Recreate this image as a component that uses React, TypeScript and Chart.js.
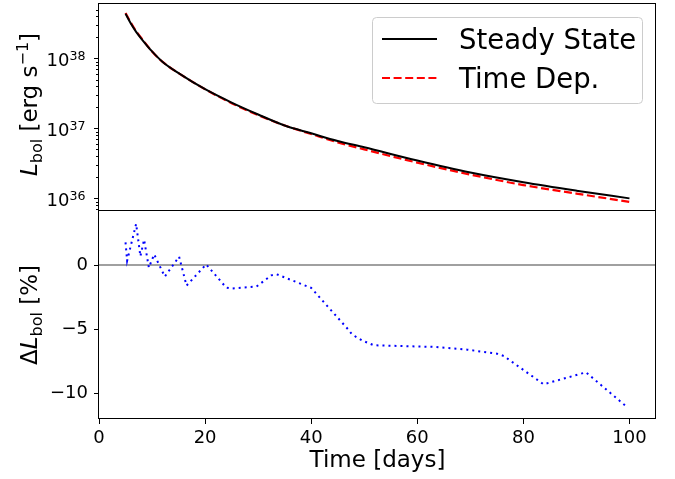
import React, { useEffect, useRef } from "react";
import { Chart, registerables } from "chart.js";

Chart.register(...registerables);

const FONT = "'DejaVu Sans', sans-serif";

// ---- data ----
const times = [5, 6, 7, 8, 10, 12, 15, 20, 25, 30, 35, 40, 45, 50, 60, 70, 80, 90, 100];
const steadyState = [
  4.37e38, 3.16e38, 2.4e38, 1.91e38, 1.26e38, 8.91e37, 6.17e37, 3.63e37, 2.34e37, 1.58e37,
  1.1e37, 8.51e36, 6.61e36, 5.37e36, 3.47e36, 2.34e36, 1.7e36, 1.29e36, 1.0e36,
];
const timeDep = [
  4.47e38, 3.24e38, 2.45e38, 1.95e38, 1.26e38, 8.91e37, 6.17e37, 3.63e37, 2.29e37, 1.55e37,
  1.1e37, 8.32e36, 6.31e36, 5.01e36, 3.24e36, 2.19e36, 1.55e36, 1.17e36, 8.91e35,
];

const deltaTimes = [
  5.0, 5.3, 7.0, 7.8, 8.5, 9.4, 10.4, 12.4, 15.1, 16.5, 20.2, 24.0, 25.0, 29.7, 32.5, 33.5, 40.0,
  47.0, 47.7, 49.7, 51.8, 63.5, 69.4, 75.0, 76.3, 83.8, 91.8, 99.7,
];
const deltaPercent = [
  1.76, 0.33, 3.2, 0.68, 1.97, -0.2, 0.83, -0.9, 0.65, -1.6, 0.05, -1.76, -1.83, -1.67, -0.8, -0.72,
  -1.78, -5.02, -5.4, -5.88, -6.24, -6.37, -6.58, -6.89, -7.07, -9.27, -8.34, -11.1,
];

const xTickValues = [0, 20, 40, 60, 80, 100];
const logMajorTicks = [1e36, 1e37, 1e38];
const deltaTickValues = [-10, -5, 0];
const legendLabels = ["Steady State", "Time Dep."];
const xTitle = "Time [days]";

const X_MIN = 0;
const X_MAX = 105;
const LOG_MIN = 6.6e35;
const LOG_MAX = 6.0e38;
const D_MIN = -11.97;
const D_MAX = 4.2;

// page geometry
const PAD_V = 17;
const TOP_CANVAS_Y = 4 - PAD_V; // chart area top at page y = 4
const TOP_CANVAS_H = 211 + PAD_V - TOP_CANVAS_Y; // chart area bottom at page y = 211
const BOT_CANVAS_Y = 211 - PAD_V; // chart area top at page y = 211
const BOT_CANVAS_H = 479 - BOT_CANVAS_Y;
const X_AXIS_H = 60; // chart area bottom at page y = 419

type Seg = { text: string; font: string; dy: number };

function drawVerticalRich(ctx: CanvasRenderingContext2D, segs: Seg[], baselineX: number, centerY: number) {
  ctx.save();
  let total = 0;
  const widths = segs.map((s) => {
    ctx.font = s.font;
    const w = ctx.measureText(s.text).width;
    total += w;
    return w;
  });
  ctx.translate(baselineX, centerY);
  ctx.rotate(-Math.PI / 2);
  ctx.textBaseline = "alphabetic";
  ctx.textAlign = "left";
  ctx.fillStyle = "#000";
  let u = -total / 2;
  segs.forEach((s, i) => {
    ctx.font = s.font;
    ctx.fillText(s.text, u, s.dy);
    u += widths[i];
  });
  ctx.restore();
}

function drawFrame(ctx: CanvasRenderingContext2D, a: { left: number; right: number; top: number; bottom: number }) {
  ctx.save();
  ctx.strokeStyle = "#000";
  ctx.lineWidth = 1;
  const l = Math.round(a.left) - 0.5;
  const t = Math.round(a.top) - 0.5;
  const r = Math.round(a.right) - 0.5;
  const b = Math.round(a.bottom) - 0.5;
  ctx.strokeRect(l, t, r - l, b - t);
  ctx.restore();
}

const topDecor = {
  id: "topDecor",
  afterDraw(chart: any) {
    const { ctx, chartArea, scales } = chart;
    const y = scales.y;
    ctx.save();
    // minor log ticks
    ctx.strokeStyle = "#000";
    ctx.lineWidth = 1;
    for (let e = 35; e <= 38; e++) {
      for (let m = 2; m <= 9; m++) {
        const v = m * Math.pow(10, e);
        if (v <= LOG_MIN || v >= LOG_MAX) continue;
        const py = Math.round(y.getPixelForValue(v)) + 0.5;
        ctx.beginPath();
        ctx.moveTo(chartArea.left - 3, py);
        ctx.lineTo(chartArea.left, py);
        ctx.stroke();
      }
    }
    // major tick labels 10^n with raised exponent
    ctx.fillStyle = "#000";
    ctx.textBaseline = "alphabetic";
    logMajorTicks.forEach((v) => {
      const py = y.getPixelForValue(v);
      const expText = String(Math.round(Math.log10(v)));
      const right = chartArea.left - 13.5;
      ctx.font = `12.6px ${FONT}`;
      ctx.textAlign = "right";
      const ew = ctx.measureText(expText).width;
      ctx.fillText(expText, right, py + 1.5);
      ctx.font = `18px ${FONT}`;
      ctx.fillText("10", right - ew, py + 7.5);
    });
    ctx.restore();
    drawFrame(ctx, chartArea);

    // legend
    const oy = -TOP_CANVAS_Y;
    ctx.save();
    ctx.beginPath();
    (ctx as any).roundRect(372.5, 17.5 + oy, 270, 86, 4);
    ctx.fillStyle = "rgba(255,255,255,0.8)";
    ctx.fill();
    ctx.strokeStyle = "#cccccc";
    ctx.lineWidth = 1;
    ctx.stroke();

    const ds = chart.data.datasets;
    const rows = [39 + oy, 78 + oy];
    const baselines = [49.3 + oy, 87.5 + oy];
    rows.forEach((ry, i) => {
      ctx.beginPath();
      ctx.strokeStyle = ds[i].borderColor;
      ctx.lineWidth = 2;
      ctx.setLineDash(ds[i].borderDash || []);
      ctx.moveTo(382, ry);
      ctx.lineTo(437, ry);
      ctx.stroke();
      ctx.setLineDash([]);
      ctx.fillStyle = "#000";
      ctx.font = `27.5px ${FONT}`;
      ctx.textBaseline = "alphabetic";
      ctx.textAlign = "left";
      ctx.fillText(legendLabels[i], 459, baselines[i]);
    });
    ctx.restore();

    // y title
    drawVerticalRich(
      ctx,
      [
        { text: "L", font: `italic 23px ${FONT}`, dy: 0 },
        { text: "bol", font: `16px ${FONT}`, dy: 5 },
        { text: " [erg s", font: `23px ${FONT}`, dy: 0 },
        { text: "−1", font: `16px ${FONT}`, dy: -9 },
        { text: "]", font: `23px ${FONT}`, dy: 0 },
      ],
      37,
      (chartArea.top + chartArea.bottom) / 2 - 3
    );
  },
};

const botDecor = {
  id: "botDecor",
  beforeDatasetsDraw(chart: any) {
    const { ctx, chartArea, scales } = chart;
    const py = scales.y.getPixelForValue(0);
    ctx.save();
    ctx.strokeStyle = "#808080";
    ctx.lineWidth = 1.5;
    ctx.beginPath();
    ctx.moveTo(chartArea.left, py);
    ctx.lineTo(chartArea.right, py);
    ctx.stroke();
    ctx.restore();
  },
  afterDraw(chart: any) {
    const { ctx, chartArea } = chart;
    drawFrame(ctx, chartArea);
    drawVerticalRich(
      ctx,
      [
        { text: "Δ", font: `23px ${FONT}`, dy: 0 },
        { text: "L", font: `italic 23px ${FONT}`, dy: 0 },
        { text: "bol", font: `16px ${FONT}`, dy: 5 },
        { text: " [%]", font: `23px ${FONT}`, dy: 0 },
      ],
      37,
      (chartArea.top + chartArea.bottom) / 2
    );
  },
};

export default function App() {
  const topRef = useRef<HTMLCanvasElement>(null);
  const botRef = useRef<HTMLCanvasElement>(null);

  useEffect(() => {
    document.body.style.margin = "0";
    Chart.defaults.font.family = FONT;
    Chart.defaults.color = "#000";

    const top = new Chart(topRef.current as HTMLCanvasElement, {
      type: "line",
      data: {
        datasets: [
          {
            label: legendLabels[0],
            data: times.map((t, i) => ({ x: t, y: steadyState[i] })),
            borderColor: "#000000",
            borderWidth: 2,
            pointRadius: 0,
            cubicInterpolationMode: "monotone",
            fill: false,
          },
          {
            label: legendLabels[1],
            data: times.map((t, i) => ({ x: t, y: timeDep[i] })),
            borderColor: "#ff0000",
            borderWidth: 2.2,
            borderDash: [8, 3.6],
            pointRadius: 0,
            cubicInterpolationMode: "monotone",
            fill: false,
          },
        ],
      },
      options: {
        responsive: false,
        animation: false,
        events: [],
        layout: { padding: { left: 8, right: 19, top: PAD_V, bottom: PAD_V } },
        plugins: { legend: { display: false }, tooltip: { enabled: false } },
        scales: {
          x: { type: "linear", min: X_MIN, max: X_MAX, display: false },
          y: {
            type: "logarithmic",
            min: LOG_MIN,
            max: LOG_MAX,
            afterFit: (s: any) => {
              s.width = 91;
            },
            afterBuildTicks: (s: any) => {
              s.ticks = logMajorTicks.map((v) => ({ value: v }));
            },
            ticks: {
              autoSkip: false,
              maxRotation: 0,
              padding: 6,
              color: "rgba(0,0,0,0)",
              font: { size: 18, family: FONT },
              callback: () => "10",
            },
            grid: { drawOnChartArea: false, tickLength: 5, tickColor: "#000", tickWidth: 1 },
            border: { display: false },
          },
        },
      },
      plugins: [topDecor],
    } as any);

    const bot = new Chart(botRef.current as HTMLCanvasElement, {
      type: "line",
      data: {
        datasets: [
          {
            label: "delta",
            data: deltaTimes.map((t, i) => ({ x: t, y: deltaPercent[i] })),
            borderColor: "#0000ff",
            borderWidth: 2,
            borderDash: [2, 4],
            pointRadius: 0,
            tension: 0,
            fill: false,
          },
        ],
      },
      options: {
        responsive: false,
        animation: false,
        events: [],
        layout: { padding: { left: 8, right: 19, top: PAD_V, bottom: 0 } },
        plugins: { legend: { display: false }, tooltip: { enabled: false } },
        scales: {
          x: {
            type: "linear",
            min: X_MIN,
            max: X_MAX,
            afterFit: (s: any) => {
              s.height = X_AXIS_H;
            },
            afterBuildTicks: (s: any) => {
              s.ticks = xTickValues.map((v) => ({ value: v }));
            },
            ticks: {
              autoSkip: false,
              maxRotation: 0,
              padding: 4,
              color: "#000",
              font: { size: 18, family: FONT },
              callback: (v: any) => String(v),
            },
            grid: { drawOnChartArea: false, tickLength: 5, tickColor: "#000", tickWidth: 1 },
            border: { display: false },
            title: {
              display: true,
              text: xTitle,
              color: "#000",
              font: { size: 23, family: FONT },
              padding: { top: 0, bottom: 4 },
            },
          },
          y: {
            type: "linear",
            min: D_MIN,
            max: D_MAX,
            afterFit: (s: any) => {
              s.width = 91;
            },
            afterBuildTicks: (s: any) => {
              s.ticks = deltaTickValues.map((v) => ({ value: v }));
            },
            ticks: {
              autoSkip: false,
              maxRotation: 0,
              padding: 6,
              color: "#000",
              font: { size: 18, family: FONT },
              callback: (v: any) => {
                const n = Number(v);
                return n < 0 ? "−" + Math.abs(n) : String(n);
              },
            },
            grid: { drawOnChartArea: false, tickLength: 5, tickColor: "#000", tickWidth: 1 },
            border: { display: false },
          },
        },
      },
      plugins: [botDecor],
    } as any);

    return () => {
      top.destroy();
      bot.destroy();
    };
  }, []);

  return (
    <div style={{ position: "relative", width: 675, height: 479, overflow: "hidden", background: "#fff" }}>
      <canvas
        ref={topRef}
        width={675}
        height={TOP_CANVAS_H}
        style={{ position: "absolute", left: 0, top: TOP_CANVAS_Y, width: 675, height: TOP_CANVAS_H }}
      />
      <canvas
        ref={botRef}
        width={675}
        height={BOT_CANVAS_H}
        style={{ position: "absolute", left: 0, top: BOT_CANVAS_Y, width: 675, height: BOT_CANVAS_H }}
      />
    </div>
  );
}
